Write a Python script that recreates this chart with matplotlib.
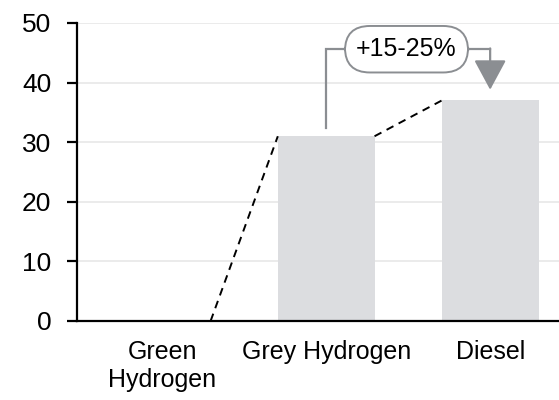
import numpy as np
import matplotlib
matplotlib.use("Agg")
from matplotlib import pyplot as plt

# donnees du graphique
categories = ["Green\nHydrogen", "Grey Hydrogen", "Diesel"]
valeurs = [0, 31, 37]
etiquette = "+15-25%"

plt.rcParams['font.family'] = ['Liberation Sans', 'DejaVu Sans']

fig = plt.figure(figsize=(5.59, 4.0), dpi=100)
ax = fig.add_axes([0.1377, 0.1975, 0.8623, 0.745])

x = np.arange(len(categories))
largeur = 0.59
couleur_barre = "#dcdde0"
gris = "#8b8e92"

ax.bar(x, valeurs, width=largeur, color=couleur_barre, zorder=2)

# lignes pointillees entre les barres
for i in range(len(valeurs) - 1):
    ax.plot([x[i] + largeur / 2, x[i + 1] - largeur / 2], [valeurs[i], valeurs[i + 1]],
            color="black", lw=1.4, ls=(0, (4, 3)), zorder=3)

# crochet d'annotation entre Grey Hydrogen et Diesel
niveau = 45.6
ax.plot([x[1], x[1], x[2]], [valeurs[1] + 1.4, niveau, niveau], color=gris, lw=1.6, zorder=3,
        solid_joinstyle="miter")
ax.annotate("", xy=(x[2], valeurs[2] + 1.8), xytext=(x[2], niveau + 0.13),
            arrowprops=dict(arrowstyle="-|>,head_length=0.78,head_width=0.42", color=gris,
                            lw=1.6, shrinkA=0, shrinkB=0, mutation_scale=24), zorder=3)
ax.text((x[1] + x[2]) / 2 - 0.01, niveau, etiquette, ha="center", va="center", fontsize=18,
        zorder=4,
        bbox=dict(boxstyle="round,pad=0.45,rounding_size=1.0", fc="white", ec=gris, lw=1.4))

ax.set_ylim(0, 50)
ax.set_xlim(-0.52, 2.42)
ax.set_yticks(range(0, 51, 10))
ax.set_xticks(x)
ax.set_xticklabels(categories)

ax.grid(axis="y", color="#e8e8e8", lw=1.2, zorder=0)
ax.set_axisbelow(True)
for s in ["top", "right"]:
    ax.spines[s].set_visible(False)
ax.spines["left"].set_linewidth(1.6)
ax.spines["bottom"].set_linewidth(1.6)
ax.tick_params(axis="y", length=7.5, width=1.6, pad=11, labelsize=19)
ax.tick_params(axis="x", length=0, pad=14, labelsize=18)

fig.savefig("out.png", dpi=100)
